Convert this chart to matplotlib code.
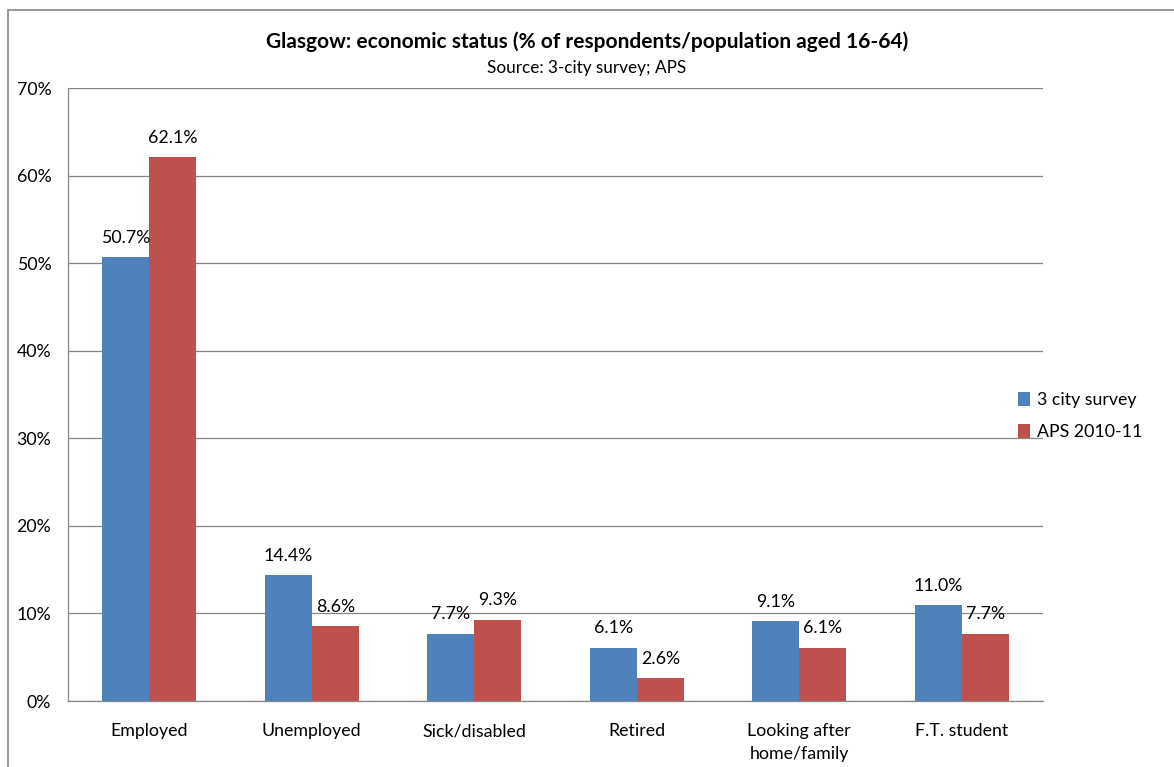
import numpy as np
import matplotlib.pyplot as plt
from matplotlib.patches import Rectangle

plt.rcParams['font.family'] = ['Lato', 'DejaVu Sans']

categories = ["Employed", "Unemployed", "Sick/disabled", "Retired",
              "Looking after\nhome/family", "F.T. student"]
survey = [50.7, 14.4, 7.7, 6.1, 9.1, 11.0]
aps = [62.1, 8.6, 9.3, 2.6, 6.1, 7.7]
series_names = ["3 city survey", "APS 2010-11"]
colors = ["#4F81BD", "#C0504D"]

fig = plt.figure(figsize=(11.74, 7.67), dpi=100)
ax = fig.add_axes([68 / 1174, 66 / 767, 975 / 1174, 613 / 767])

# outer chart border (cut off at right and bottom)
fig.patches.append(Rectangle((8 / 1174, -0.1), 1.2, (767 - 10) / 767 + 0.1,
                             transform=fig.transFigure, fill=False,
                             edgecolor="#868686", linewidth=1.2))

x = np.arange(len(categories))
w = 0.29
b1 = ax.bar(x - w / 2, survey, w, color=colors[0], label=series_names[0], zorder=3)
b2 = ax.bar(x + w / 2, aps, w, color=colors[1], label=series_names[1], zorder=3)

for bars, vals in ((b1, survey), (b2, aps)):
    for r, v in zip(bars, vals):
        ax.annotate(f"{v:.1f}%", (r.get_x() + r.get_width() / 2, v),
                    xytext=(0, 8), textcoords="offset points",
                    ha="center", va="bottom", fontsize=12.8)

ax.set_xlim(-0.5, len(categories) - 0.5)
ax.set_ylim(0, 70)
ax.set_yticks(np.arange(0, 71, 10))
ax.set_yticklabels([f"{t}%" for t in range(0, 71, 10)], fontsize=12.8)
ax.set_xticks(x)
ax.set_xticklabels(categories, fontsize=12.8, linespacing=1.5)
ax.tick_params(axis="both", length=0)
ax.tick_params(axis="y", pad=12)
ax.tick_params(axis="x", pad=16)

ax.yaxis.grid(True, color="#868686", linewidth=0.9, zorder=0)
ax.set_axisbelow(True)
for s in ("top", "right"):
    ax.spines[s].set_visible(False)
for s in ("left", "bottom"):
    ax.spines[s].set_color("#868686")
    ax.spines[s].set_linewidth(0.9)

fig.text(0.5, 1 - 42 / 767, "Glasgow: economic status (% of respondents/population aged 16-64)",
         ha="center", va="center", fontsize=15, fontweight="bold")
fig.text(0.5, 1 - 68 / 767, "Source: 3-city survey; APS", ha="center", va="center", fontsize=12.3)

ax.legend(loc="center left", bbox_to_anchor=(1018 / 1174, 1 - 416 / 767),
          bbox_transform=fig.transFigure, frameon=False, borderpad=0, borderaxespad=0,
          fontsize=12.8, handlelength=0.65, handleheight=0.85, handletextpad=0.4,
          labelspacing=0.85)

fig.savefig("out.png", dpi=100)
